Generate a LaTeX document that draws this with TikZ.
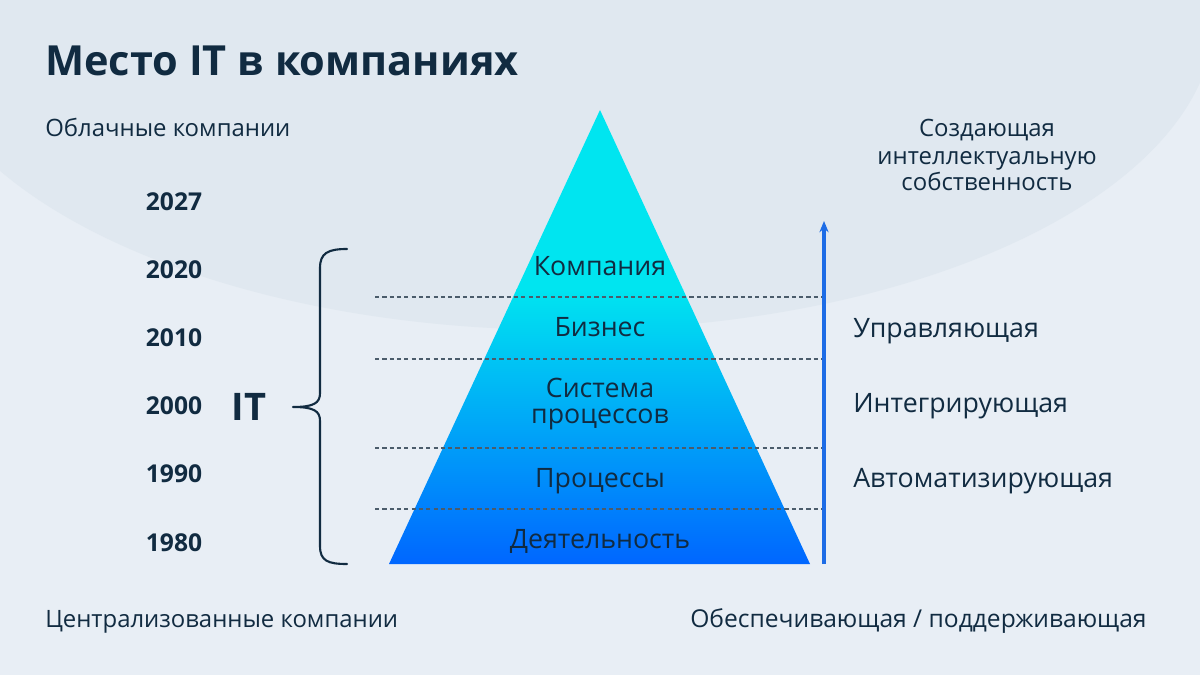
\documentclass[tikz,border=0pt]{standalone}
\usepackage{fontspec}
\setmainfont{Open Sans}
\usetikzlibrary{arrows.meta}
\definecolor{bg}{HTML}{E8EEF5}
\definecolor{ell}{HTML}{E0E8F0}
\definecolor{navy}{HTML}{112B41}
\definecolor{topc}{HTML}{00E5F0}
\definecolor{botc}{HTML}{0066FF}
\definecolor{arrowc}{HTML}{1D6CE6}
\definecolor{dashc}{HTML}{4B5C6B}
\begin{document}
\begin{tikzpicture}[x=0.025cm,y=-0.025cm,
  lbl/.style={inner sep=0pt, text=navy, font=\fontsize{17}{19.5}\selectfont},
  big/.style={inner sep=0pt, text=navy, font=\fontsize{19}{21}\selectfont},
  yr/.style={inner sep=0pt, text=navy, font=\bfseries\fontsize{17.5}{20}\selectfont, anchor=base},
  sepline/.style={draw=dashc, line width=0.8pt, dash pattern=on 3pt off 2.2pt},
  bracepath/.style={draw=navy, line width=1.5pt, line cap=round, line join=round},
  arrowline/.style={draw=arrowc, line width=2.2pt, -{Stealth[length=8pt,width=6.5pt]}}]
\fill[bg] (0,0) rectangle (1200,675);
\useasboundingbox (0,0) rectangle (1200,675);
\begin{scope}
  \clip (0,0) rectangle (1200,675);
  \fill[ell] (565,15) ellipse [x radius=650, y radius=315];
\end{scope}

% title
\node[inner sep=0pt, text=navy, anchor=base west, font=\bfseries\fontsize{29.5}{34}\selectfont] (title) at (45,76) {Место IT в компаниях};

% left labels
\node[lbl, anchor=base west] (cloud) at (45,137) {Облачные компании};
\node[lbl, anchor=base west] (central) at (45,627) {Централизованные компании};

% years
\node[yr] (y2027) at (174,211) {2027};
\node[yr] (y2020) at (174,278) {2020};
\node[yr] (y2010) at (174,346) {2010};
\node[yr] (y2000) at (174,414) {2000};
\node[yr] (y1990) at (174,482) {1990};
\node[yr] (y1980) at (174,551) {1980};
\node[inner sep=0pt, text=navy, anchor=base, font=\bfseries\fontsize{27}{30}\selectfont] (it) at (249,420) {IT};

% brace
\coordinate (brT) at (347,249);
\coordinate (brM) at (293,407);
\coordinate (brB) at (347,564);
\path[bracepath] (brT) .. controls (328,249) and (320,253) .. (320,268) -- (320,393)
  .. controls (320,403) and (314,407) .. (brM)
  .. controls (314,407) and (320,411) .. (320,421) -- (320,546)
  .. controls (320,561) and (328,564) .. (brB);

% pyramid
\coordinate (apex) at (600,110);
\coordinate (bl) at (389,564);
\coordinate (br) at (810,564);
\begin{scope}
  \clip (apex) -- (br) -- (bl) -- cycle;
  \fill[topc] (380,105) rectangle (820,290);
  \shade[top color=topc, bottom color=botc] (380,289) rectangle (820,565);
\end{scope}

% separators
\draw[sepline] (375,297) -- (822,297);
\draw[sepline] (375,359) -- (822,359);
\draw[sepline] (375,448) -- (822,448);
\draw[sepline] (375,509) -- (822,509);

% pyramid labels
\node[big, anchor=base] (l1) at (600,275) {Компания};
\node[big, anchor=base] (l2) at (600,336) {Бизнес};
\node[big, anchor=base] (l3a) at (600,397) {Система};
\node[big, anchor=base] (l3b) at (600,423) {процессов};
\node[big, anchor=base] (l4) at (600,487) {Процессы};
\node[big, anchor=base] (l5) at (600,548) {Деятельность};

% arrow
\coordinate (arB) at (824,564);
\coordinate (arT) at (824,221);
\draw[arrowline] (arB) -- (arT);

% right labels
\node[lbl, anchor=base] (r0a) at (987,137) {Создающая};
\node[lbl, anchor=base] (r0b) at (987,165) {интеллектуальную};
\node[lbl, anchor=base] (r0c) at (987,191) {собственность};
\node[big, anchor=base west] (r1) at (853,337) {Управляющая};
\node[big, anchor=base west] (r2) at (853,412) {Интегрирующая};
\node[big, anchor=base west] (r3) at (853,487) {Автоматизирующая};
\node[inner sep=0pt, text=navy, font=\fontsize{17.5}{20}\selectfont, anchor=base west] (r4) at (690,627) {Обеспечивающая / поддерживающая};
\end{tikzpicture}
\end{document}
